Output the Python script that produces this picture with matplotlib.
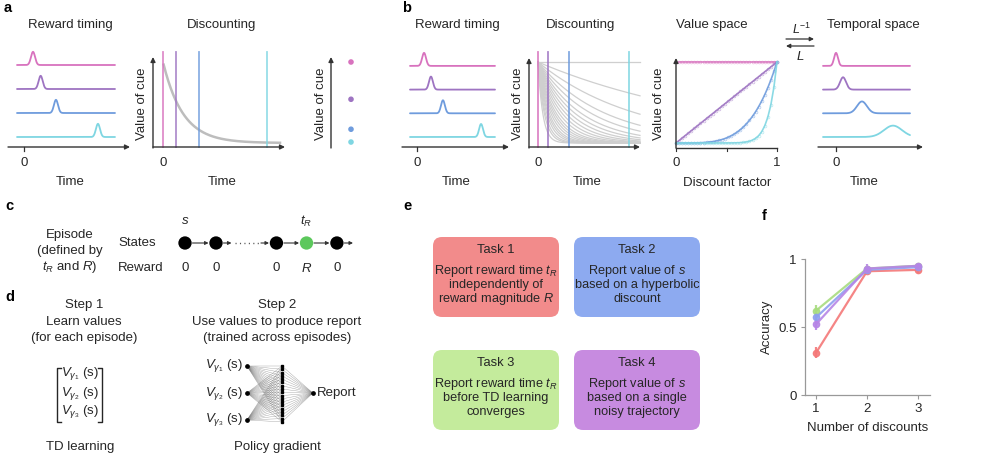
import numpy as np
import matplotlib
matplotlib.use('Agg')
import matplotlib.pyplot as plt
from matplotlib.patches import FancyBboxPatch

plt.rcParams['font.family'] = ['Liberation Sans', 'DejaVu Sans']
plt.rcParams['mathtext.fontset'] = 'custom'
plt.rcParams['mathtext.rm'] = 'Liberation Sans'
plt.rcParams['mathtext.it'] = 'Liberation Sans:italic'
plt.rcParams['mathtext.bf'] = 'Liberation Sans:bold'

# ---------------- DATA ----------------
cue_colors = ['#D872BE', '#9E74C2', '#6F9CDD', '#7FD6E2']

# panel a
a_reward_times = [0.53, 0.98, 1.88, 4.35]
a_cue_times = [0.0, 0.59, 1.64, 4.73]
a_cue_values = [1.0, 0.54, 0.17, 0.012]
a_tau = 0.9

# panel b
b_reward_times = [0.47, 0.93, 1.73, 4.27]
b_cue_times = [0.0, 0.45, 1.41, 4.14]
b_gammas = [1.0, 0.89, 0.80, 0.72, 0.66, 0.60, 0.55, 0.50, 0.45, 0.40,
            0.35, 0.30, 0.26, 0.22, 0.18, 0.14, 0.11, 0.08, 0.05, 0.03, 0.01]
b_value_exponents = [0, 1, 4, 12]
b_temporal_centers = [0.0, 0.47, 1.73, 3.8]
b_temporal_widths = [0.13, 0.2, 0.33, 0.6]

# panel c
state_rewards = ['0', '0', '0', '$R$', '0']
state_is_reward = [False, False, False, True, False]

# panel e
task_titles = ['Task 1', 'Task 2', 'Task 3', 'Task 4']
task_lines = [
    ['Report reward time $t_R$', 'independently of', 'reward magnitude $R$'],
    ['Report value of $s$', 'based on a hyperbolic', 'discount'],
    ['Report reward time $t_R$', 'before TD learning', 'converges'],
    ['Report value of $s$', 'based on a single', 'noisy trajectory'],
]
task_colors = ['#F28B8B', '#8DAAF0', '#C4EB9C', '#C78BE0']

# panel f
n_discounts = [1, 2, 3]
acc_task1 = [0.31, 0.91, 0.92]
err_task1 = [0.04, 0.02, 0.02]
acc_task3 = [0.62, 0.93, 0.95]
err_task3 = [0.04, 0.02, 0.015]
acc_task2 = [0.57, 0.92, 0.94]
err_task2 = [0.03, 0.02, 0.015]
acc_task4 = [0.52, 0.93, 0.95]
err_task4 = [0.04, 0.03, 0.02]
f_colors = {'task1': '#F47878', 'task3': '#A8DC80', 'task2': '#8E9FF0', 'task4': '#B685E6'}

# ---------------- FIGURE ----------------
W, H = 1000, 453
fig = plt.figure(figsize=(10, 4.53), dpi=100)
TXT = '#262626'
AX = '#333333'
GRAY = '#BDBDBD'

ov = fig.add_axes([0, 0, 1, 1])
ov.set_xlim(0, W)
ov.set_ylim(H, 0)
ov.axis('off')


def T(x, y, s, size=9.5, **kw):
    kw.setdefault('ha', 'center')
    kw.setdefault('va', 'center')
    kw.setdefault('color', TXT)
    ov.text(x, y, s, fontsize=size, **kw)


class PxAx:
    def __init__(self, rect, origin, scale):
        left, top, right, bottom = rect
        self.ox, self.oy = origin
        self.sx, self.sy = scale
        self.ax = fig.add_axes([left / W, 1 - bottom / H, (right - left) / W, (bottom - top) / H])
        self.ax.set_xlim(self.dx(left), self.dx(right))
        self.ax.set_ylim(self.dy(bottom), self.dy(top))
        self.ax.axis('off')

    def dx(self, px):
        return (px - self.ox) / self.sx

    def dy(self, py):
        return (self.oy - py) / self.sy


def arrow(ax, x0, y0, x1, y1, lw=1.0, color=AX, ms=7):
    ax.annotate('', xy=(x1, y1), xytext=(x0, y0),
                arrowprops=dict(arrowstyle='-|>', lw=lw, color=color,
                                mutation_scale=ms, shrinkA=0, shrinkB=0),
                annotation_clip=False)


def timing_panel(p, centers, widths, heights, t0, t1, ax_px0, ax_px1, ax_py):
    t = np.linspace(t0, t1, 500)
    for i, (c, w, h, col) in enumerate(zip(centers, widths, heights, cue_colors)):
        base = 3 - i
        p.ax.plot(t, base + h * np.exp(-0.5 * ((t - c) / w) ** 2), color=col, lw=1.3,
                  solid_capstyle='round')
    yb = p.dy(ax_py)
    arrow(p.ax, p.dx(ax_px0), yb, p.dx(ax_px1), yb)
    p.ax.plot([0, 0], [yb, yb - 4 / p.sy], color=AX, lw=0.9)
    p.ax.text(0, p.dy(163), '0', ha='center', va='center', fontsize=9.5, color=TXT)


# ---------- panel a ----------
pa1 = PxAx((4, 45, 134, 170), (24, 137), (17, 24))
timing_panel(pa1, a_reward_times, [0.12] * 4, [0.55] * 4, pa1.dx(17), pa1.dx(115), 8, 130, 147)

pa2 = PxAx((135, 45, 292, 170), (163, 143), (22, 81))
xa = pa2.dx(153)
arrow(pa2.ax, xa, pa2.dy(148), xa, pa2.dy(57))
arrow(pa2.ax, xa, pa2.dy(147), pa2.dx(285), pa2.dy(147))
tt = np.linspace(0.03, pa2.dx(280), 300)
pa2.ax.plot(tt, np.exp(-tt / a_tau), color=GRAY, lw=1.8)
for tc, col in zip(a_cue_times, cue_colors):
    pa2.ax.plot([tc, tc], [pa2.dy(147), pa2.dy(52)], color=col, lw=1.3, alpha=0.8)
pa2.ax.text(0, pa2.dy(163), '0', ha='center', va='center', fontsize=9.5, color=TXT)

pa3 = PxAx((315, 45, 370, 170), (331, 143), (20, 81))
arrow(pa3.ax, 0, pa3.dy(148), 0, pa3.dy(57))
pa3.ax.scatter([1] * 4, a_cue_values, s=9, c=cue_colors, zorder=3)

# ---------- panel b ----------
pb1 = PxAx((398, 45, 515, 170), (417, 137), (15, 23.7))
timing_panel(pb1, b_reward_times, [0.13] * 4, [0.55] * 4, pb1.dx(410), pb1.dx(495), 402, 509, 147)

pb2 = PxAx((515, 45, 645, 170), (538, 143), (22, 81))
xb = pb2.dx(529)
tb = np.linspace(0, pb2.dx(640), 400)
for g in b_gammas:
    pb2.ax.plot(tb, g ** tb, color='#CFCFCF', lw=0.9)
for tc, col in zip(b_cue_times, cue_colors):
    pb2.ax.plot([tc, tc], [pb2.dy(147), pb2.dy(52)], color=col, lw=1.3, alpha=0.85)
arrow(pb2.ax, xb, pb2.dy(148), xb, pb2.dy(58))
arrow(pb2.ax, xb, pb2.dy(147), pb2.dx(640), pb2.dy(147))
pb2.ax.text(0, pb2.dy(163), '0', ha='center', va='center', fontsize=9.5, color=TXT)

pb3 = PxAx((650, 45, 790, 170), (676, 143), (101, 81))
gam = np.linspace(0.0, 1.0, 34)
for k, col in zip(b_value_exponents, cue_colors):
    gg = gam[1:] if k == 0 else gam
    pb3.ax.plot(gg, gg ** k, color=col, lw=1.2, alpha=0.9, clip_on=False)
    pb3.ax.plot(gg, gg ** k, ls='none', marker='o', ms=2.0, mfc='none', mec=col,
                mew=0.5, alpha=0.55, clip_on=False)
arrow(pb3.ax, 0, pb3.dy(148), 0, pb3.dy(58))
pb3.ax.plot([0, 1], [pb3.dy(148)] * 2, color=AX, lw=1.0)
for xt in [0, 0.5, 1]:
    pb3.ax.plot([xt, xt], [pb3.dy(148), pb3.dy(151)], color=AX, lw=0.8)
pb3.ax.text(0, pb3.dy(163), '0', ha='center', va='center', fontsize=9.5, color=TXT)
pb3.ax.text(1, pb3.dy(163), '1', ha='center', va='center', fontsize=9.5, color=TXT)

pb4 = PxAx((812, 45, 935, 170), (836, 137), (15, 23.7))
timing_panel(pb4, b_temporal_centers, b_temporal_widths, [0.55, 0.52, 0.5, 0.48],
             pb4.dx(823), pb4.dx(910), 818, 923, 147)

# L arrows
arrow(ov, 786, 39, 814, 39, lw=0.9, ms=6)
arrow(ov, 814, 46, 786, 46, lw=0.9, ms=6)
T(802, 29, r'$L^{-1}$', size=9)
T(800, 56, r'$L$', size=9.5)

# titles & labels row 1
for x, s in [(70, 'Reward timing'), (222, 'Discounting'), (457, 'Reward timing'),
             (581, 'Discounting'), (712, 'Value space'), (873, 'Temporal space')]:
    T(x, 25, s)
for x in [70, 222, 456, 587, 864]:
    T(x, 182, 'Time')
T(727, 183, 'Discount factor')
for x in [142, 321, 518, 659]:
    T(x, 104, 'Value of cue', rotation=90)

# panel letters
for x, y, s in [(4, 8, 'a'), (402, 8, 'b'), (5, 206, 'c'), (5, 297, 'd'), (403, 206, 'e'), (762, 216, 'f')]:
    T(x, y, s, size=10.5, weight='bold', ha='left', color='black')

# ---------- panel c ----------
pc = PxAx((170, 215, 365, 275), (185, 243), (31, 1))
state_pos = [0, 1, 2.95, 3.92, 4.9]
cols = ['#5CC85C' if r else 'black' for r in state_is_reward]
pc.ax.scatter(state_pos, [0] * 5, s=92, c=cols, zorder=3, edgecolors='none')
for i in range(len(state_pos) - 1):
    a0, a1 = state_pos[i], state_pos[i + 1]
    if a1 - a0 > 1.5:
        arrow(pc.ax, a0 + 0.24, 0, a0 + 0.5, 0, lw=0.8, ms=5)
        pc.ax.plot([a0 + 0.62, a1 - 0.55], [0, 0], color='#555555', lw=1.0, ls=(0, (0.8, 2.4)))
        arrow(pc.ax, a1 - 0.5, 0, a1 - 0.24, 0, lw=0.8, ms=5)
    else:
        arrow(pc.ax, a0 + 0.24, 0, a1 - 0.24, 0, lw=0.8, ms=5)
arrow(pc.ax, state_pos[-1] + 0.24, 0, state_pos[-1] + 0.52, 0, lw=0.8, ms=5)
for p, r in zip(state_pos, state_rewards):
    pc.ax.text(p, -25, r, ha='center', va='center', fontsize=9.5, color=TXT)
pc.ax.text(state_pos[0], 22, '$s$', ha='center', va='center', fontsize=9.5, color=TXT)
pc.ax.text(state_pos[3], 22, '$t_R$', ha='center', va='center', fontsize=9.5, color=TXT)

T(70, 235, 'Episode')
T(70, 251, '(defined by')
T(70, 267, '$t_R$ and $R$)')
T(137, 243, 'States')
T(141, 268, 'Reward')

# ---------- panel d ----------
for y, s in [(305, 'Step 1'), (322, 'Learn values'), (338, '(for each episode)')]:
    T(84, y, s)
for y, s in [(305, 'Step 2'), (322, 'Use values to produce report'), (338, '(trained across episodes)')]:
    T(277, y, s)
T(80, 447, 'TD learning')
T(277, 447, 'Policy gradient')
for y, s in [(373, r'$V_{\gamma_1}$ (s)'), (393, r'$V_{\gamma_2}$ (s)'), (412, r'$V_{\gamma_3}$ (s)')]:
    T(80, y, s, size=9.5)
# brackets
for xb_, d in [(57, 1), (102, -1)]:
    ov.plot([xb_ + 4 * d, xb_, xb_, xb_ + 4 * d], [368, 368, 422, 422], color=TXT, lw=1.0)

pdn = PxAx((240, 355, 330, 432), (247, 393), (35, 27))
in_y = [1, 0, -1]
hid_y = np.linspace(1.0, -1.07, 18)
hx, ox_ = 1.0, 1.88
for yi in in_y:
    for yh in hid_y:
        pdn.ax.plot([0, hx], [yi, yh], color='#777777', lw=0.3, alpha=0.7)
for yh in hid_y:
    pdn.ax.plot([hx, ox_], [yh, 0], color='#777777', lw=0.3, alpha=0.7)
pdn.ax.plot([0] * 3, in_y, 'o', color='black', ms=2.4)
pdn.ax.plot([hx] * len(hid_y), hid_y, 's', color='black', ms=1.6)
pdn.ax.plot([ox_], [0], 'o', color='black', ms=2.4)
for y, s in [(366, r'$V_{\gamma_1}$ (s)'), (393, r'$V_{\gamma_2}$ (s)'), (420, r'$V_{\gamma_3}$ (s)')]:
    T(243, y, s, ha='right')
T(317, 393, 'Report', ha='left')

# ---------- panel e ----------
boxes = [(433, 237), (574, 237), (433, 350), (574, 350)]
for (bx, by), title, lines, col in zip(boxes, task_titles, task_lines, task_colors):
    ov.add_patch(FancyBboxPatch((bx, by), 126, 80, boxstyle='round,pad=0,rounding_size=9',
                                facecolor=col, edgecolor='none'))
    T(bx + 63, by + 13, title, size=9.3)
    for j, ln in enumerate(lines):
        T(bx + 63, by + 34 + 14 * j, ln, size=9.2)

# ---------- panel f ----------
axf = fig.add_axes([805 / W, 1 - 395 / H, 125 / W, 136 / H])
series = [(acc_task1, err_task1, 'task1'), (acc_task3, err_task3, 'task3'),
          (acc_task2, err_task2, 'task2'), (acc_task4, err_task4, 'task4')]
for acc, err, key in series:
    axf.errorbar(n_discounts, acc, yerr=err, color=f_colors[key], lw=1.6, marker='o',
                 ms=4.5, elinewidth=1.6, capsize=0, clip_on=False, alpha=0.9)
axf.set_xlim(0.784, 3.235)
axf.set_ylim(0, 1)
axf.set_xticks([1, 2, 3])
axf.set_yticks([0, 0.5, 1])
axf.set_yticklabels(['0', '0.5', '1'])
for sp in ['top', 'right']:
    axf.spines[sp].set_visible(False)
for sp in ['left', 'bottom']:
    axf.spines[sp].set_color('#999999')
    axf.spines[sp].set_linewidth(0.9)
axf.tick_params(length=3, width=0.8, color='#999999', labelsize=9.5, labelcolor=TXT, pad=3)
axf.set_ylabel('Accuracy', fontsize=9.5, color=TXT, labelpad=4)
axf.set_xlabel('Number of discounts', fontsize=9.5, color=TXT, labelpad=5)

fig.savefig('out.png', dpi=100)
